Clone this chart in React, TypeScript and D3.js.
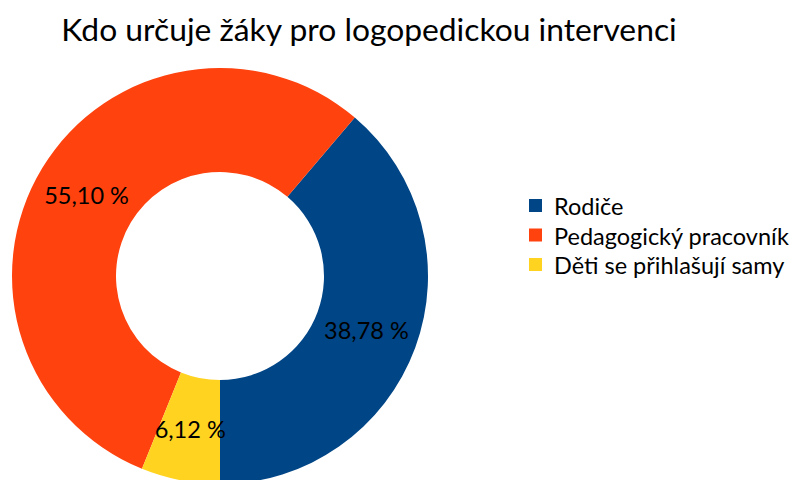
import React from "react";
import * as d3 from "d3";

const title = "Kdo určuje žáky pro logopedickou intervenci";
const categories = ["Rodiče", "Pedagogický pracovník", "Děti se přihlašují samy"];
const values = [38.78, 55.1, 6.12];
const labels = ["38,78 %", "55,10 %", "6,12 %"];
const colors = ["#004586", "#ff420e", "#ffd320"];

const W = 796;
const H = 480;
const cx = 220;
const cy = 276;
const R = 208;
const r = 104;
const font = "Lato, 'Open Sans', sans-serif";

export default function App() {
  const pie = d3
    .pie<number>()
    .sort(null)
    .startAngle(Math.PI)
    .endAngle(-Math.PI);
  const arcs = pie(values);
  const arc = d3.arc<d3.PieArcDatum<number>>().innerRadius(r).outerRadius(R);
  const legendY = d3.scalePoint<string>().domain(categories).range([206, 265]);

  return (
    <svg
      width={W}
      height={H}
      style={{ position: "absolute", left: 0, top: 0, background: "#fff" }}
    >
      <text x={369} y={41} textAnchor="middle" fontFamily={font} fontSize={31.8} fill="#000">
        {title}
      </text>
      <g transform={`translate(${cx},${cy})`}>
        {arcs.map((a, i) => (
          <path key={i} d={arc(a) || ""} fill={colors[i]} />
        ))}
        {arcs.map((a, i) => {
          const [x, y] = arc.centroid(a);
          return (
            <text
              key={i}
              x={x}
              y={y}
              textAnchor="middle"
              dominantBaseline="central"
              fontFamily={font}
              fontSize={23.5}
              fill="#000"
            >
              {labels[i]}
            </text>
          );
        })}
      </g>
      <g>
        {categories.map((c, i) => {
          const y = legendY(c) as number;
          return (
            <g key={c}>
              <rect x={529} y={y - 7} width={13} height={13} fill={colors[i]} />
              <text
                x={554}
                y={y}
                dominantBaseline="central"
                fontFamily={font}
                fontSize={23.5}
                fill="#000"
              >
                {c}
              </text>
            </g>
          );
        })}
      </g>
    </svg>
  );
}
